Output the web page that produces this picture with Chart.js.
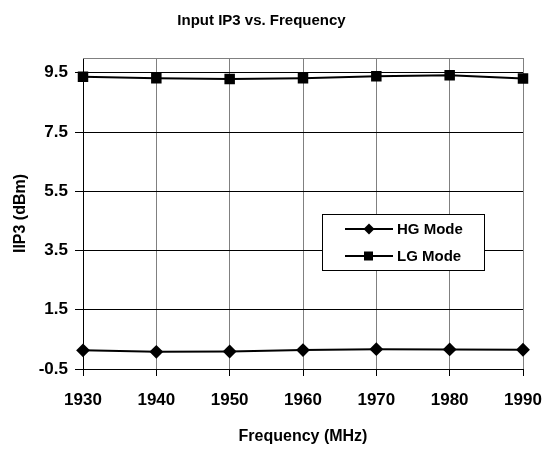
<!DOCTYPE html>
<html>
<head>
<meta charset="utf-8">
<script src="https://cdn.jsdelivr.net/npm/chart.js@4"></script>
<style>
  html, body { margin: 0; padding: 0; background: #fff; }
  #wrap { width: 544px; height: 451px; }
</style>
</head>
<body>
<div id="wrap"><canvas id="chart"></canvas></div>
<script>
// chart data
const frequencies = [1930, 1940, 1950, 1960, 1970, 1980, 1990];
const hgMode = [0.13, 0.08, 0.09, 0.14, 0.17, 0.16, 0.15];
const lgMode = [9.37, 9.32, 9.29, 9.32, 9.38, 9.42, 9.31];
const yTicks = [-0.5, 1.5, 3.5, 5.5, 7.5, 9.5];

const FONT = "'Liberation Sans', Arial, sans-serif";

// frame round the plot + legend inside the plot area
const framePlugin = {
    id: 'frame',
    afterDatasetsDraw(chart) {
        const { ctx, chartArea: a } = chart;
        ctx.save();
        ctx.strokeStyle = '#808080';
        ctx.lineWidth = 1;
        ctx.beginPath();
        ctx.moveTo(a.left, a.top + 0.5);
        ctx.lineTo(a.right, a.top + 0.5);
        ctx.stroke();

        // legend box
        const x = 322, y = 214, w = 162, h = 56;
        ctx.fillStyle = '#fff';
        ctx.fillRect(x, y, w, h);
        ctx.strokeStyle = '#000';
        ctx.strokeRect(x + 0.5, y + 0.5, w, h);
        ctx.font = 'bold 15px ' + FONT;
        ctx.textBaseline = 'middle';
        chart.data.datasets.forEach((ds, i) => {
            const cy = y + 15 + i * 27;
            ctx.strokeStyle = '#000';
            ctx.lineWidth = 2;
            ctx.beginPath();
            ctx.moveTo(345, cy);
            ctx.lineTo(393, cy);
            ctx.stroke();
            ctx.fillStyle = '#000';
            if (ds.pointStyle === 'rect') {
                ctx.fillRect(364, cy - 4.5, 9, 9);
            } else {
                ctx.beginPath();
                ctx.moveTo(369, cy - 5.5);
                ctx.lineTo(374.5, cy);
                ctx.lineTo(369, cy + 5.5);
                ctx.lineTo(363.5, cy);
                ctx.closePath();
                ctx.fill();
            }
            ctx.fillText(ds.label, 397, cy + 1);
        });
        ctx.restore();
    }
};

new Chart(document.getElementById('chart'), {
    type: 'line',
    data: {
        labels: frequencies,
        datasets: [
            {
                label: 'HG Mode',
                data: hgMode,
                borderColor: '#000',
                backgroundColor: '#000',
                borderWidth: 2,
                pointStyle: 'rectRot',
                pointRadius: 5.5,
                fill: false,
                clip: false
            },
            {
                label: 'LG Mode',
                data: lgMode,
                borderColor: '#000',
                backgroundColor: '#000',
                borderWidth: 2,
                pointStyle: 'rect',
                pointRadius: 6,
                fill: false,
                clip: false
            }
        ]
    },
    options: {
        responsive: true,
        maintainAspectRatio: false,
        animation: false,
        layout: { padding: { left: 0, right: 21, top: 0, bottom: 0 } },
        plugins: {
            legend: { display: false },
            tooltip: { enabled: false },
            title: {
                display: true,
                text: 'Input IP3 vs. Frequency',
                color: '#000',
                font: { family: FONT, size: 15, weight: 'bold' },
                padding: { top: 12, bottom: 28 }
            }
        },
        scales: {
            x: {
                type: 'category',
                offset: false,
                grid: { color: '#808080', lineWidth: 1, tickLength: 7, tickColor: '#000' },
                border: { color: '#000', width: 1 },
                ticks: { color: '#000', padding: 14, maxRotation: 0, font: { family: FONT, size: 17, weight: 'bold' } },
                title: {
                    display: true,
                    text: 'Frequency (MHz)',
                    color: '#000',
                    font: { family: FONT, size: 16, weight: 'bold' },
                    padding: { top: 10, bottom: 5 }
                },
                afterFit(scale) {
                    scale.height = 82;
                    scale.paddingLeft = 0;
                    scale.paddingRight = 0;
                }
            },
            y: {
                min: -0.5,
                max: 10,
                afterBuildTicks(scale) { scale.ticks = yTicks.map(v => ({ value: v })); },
                grid: { color: '#000', lineWidth: 1, tickLength: 8, tickColor: '#000' },
                border: { color: '#000', width: 1 },
                ticks: {
                    color: '#000',
                    padding: 7,
                    font: { family: FONT, size: 17, weight: 'bold' },
                    callback: v => v.toFixed(1)
                },
                title: {
                    display: true,
                    text: 'IIP3 (dBm)',
                    color: '#000',
                    font: { family: FONT, size: 16, weight: 'bold' },
                    padding: { top: 11, bottom: 4 }
                },
                afterFit(scale) {
                    scale.width = 83;
                    scale.paddingTop = 0;
                    scale.paddingBottom = 0;
                }
            }
        }
    },
    plugins: [framePlugin]
});
</script>
</body>
</html>
